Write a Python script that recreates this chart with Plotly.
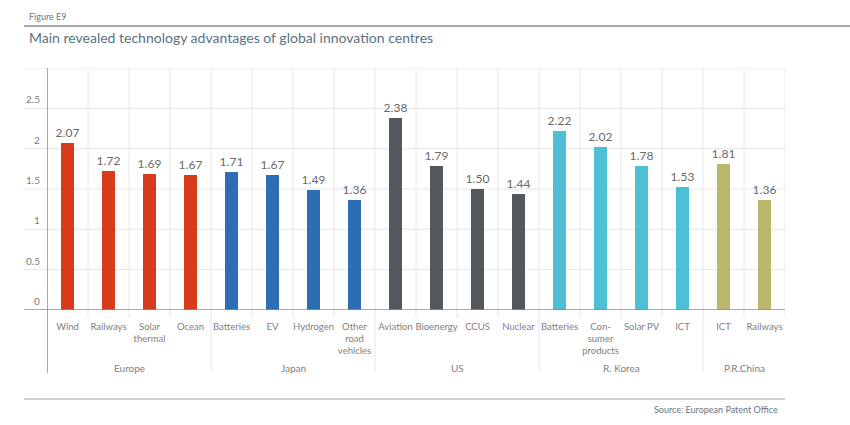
import plotly.graph_objects as go

categories = ["Wind", "Railways", "Solar<br>thermal", "Ocean",
              "Batteries", "EV", "Hydrogen", "Other<br>road<br>vehicles",
              "Aviation", "Bioenergy", "CCUS", "Nuclear",
              "Batteries", "Con-<br>sumer<br>products", "Solar PV", "ICT",
              "ICT", "Railways"]
values = [2.07, 1.72, 1.69, 1.67,
          1.71, 1.67, 1.49, 1.36,
          2.38, 1.79, 1.50, 1.44,
          2.22, 2.02, 1.78, 1.53,
          1.81, 1.36]
groups = ["Europe"] * 4 + ["Japan"] * 4 + ["US"] * 4 + ["R. Korea"] * 4 + ["P.R.China"] * 2
group_names = ["Europe", "Japan", "US", "R. Korea", "P.R.China"]
group_colors = {"Europe": "#D83A1C", "Japan": "#2C6DB3", "US": "#53585C",
                "R. Korea": "#4FBFD6", "P.R.China": "#BAB66B"}
y_ticks = [0, 0.5, 1, 1.5, 2, 2.5]
y_tick_labels = ["0", "0.5", "1", "1.5", "2", "2.5"]
y_grid = [0.5, 1, 1.5, 2, 2.5, 3]

x = list(range(len(categories)))
FONT = "Lato"
GREY = "#808080"

fig = go.Figure(go.Bar(
    x=x, y=values,
    marker=dict(color=[group_colors[g] for g in groups], line=dict(width=0)),
    width=0.34,
    text=[f"{v:.2f}" for v in values],
    textposition="outside",
    constraintext="none",
    textfont=dict(family=FONT, size=12, color="#6A6A6A"),
    cliponaxis=False,
    hoverinfo="skip",
))

shapes = []
LX = -23 / 738  # left extension of horizontal lines (paper)
for g in y_grid:
    shapes.append(dict(type="line", xref="paper", yref="y", x0=LX, x1=1, y0=g, y1=g,
                       line=dict(color="#E4E6E8", width=1), layer="below"))
# vertical grid lines
n = len(categories)
bounds = [i + 0.5 for i in range(n)]
sep = set()
idx = 0
for gname in group_names:
    idx += groups.count(gname)
    sep.add(idx - 0.5)
for b in bounds:
    long_line = b in sep and b < n - 0.5
    shapes.append(dict(type="line", xref="x", yref="paper", x0=b, x1=b,
                       y0=(-62 / 242) if long_line else (-8 / 242), y1=1,
                       line=dict(color="#E4E6E8", width=1), layer="below"))
# zero line
shapes.append(dict(type="line", xref="paper", yref="y", x0=LX, x1=1, y0=0, y1=0,
                   line=dict(color="#8A8C8E", width=1.5)))
# y axis line
shapes.append(dict(type="line", xref="x", yref="paper", x0=-0.5, x1=-0.5,
                   y0=-63 / 242, y1=1, line=dict(color="#8A8C8E", width=1.5)))
# top & bottom rules
shapes.append(dict(type="line", xref="paper", yref="paper", x0=LX, x1=(850 - 47) / 738,
                   y0=(310 - 26) / 242, y1=(310 - 26) / 242, line=dict(color="#8A8C8E", width=1.5)))
shapes.append(dict(type="line", xref="paper", yref="paper", x0=LX, x1=1,
                   y0=(310 - 399) / 242, y1=(310 - 399) / 242, line=dict(color="#A0A2A4", width=1.2)))

annotations = []
for t, lab in zip(y_ticks, y_tick_labels):
    annotations.append(dict(x=-5 / 738, xref="paper", y=t, yref="y", text=lab,
                            showarrow=False, xanchor="right", yanchor="bottom", yshift=1,
                            font=dict(family=FONT, size=10, color=GREY)))
# group labels
start = 0
for gname in group_names:
    cnt = groups.count(gname)
    annotations.append(dict(x=start + (cnt - 1) / 2, xref="x", y=(310 - 368) / 242, yref="paper",
                            text=gname, showarrow=False, xanchor="center", yanchor="middle",
                            font=dict(family=FONT, size=10, color=GREY)))
    start += cnt
annotations.append(dict(x=-20 / 738, xref="paper", y=(310 - 17) / 242, yref="paper",
                        text="Figure E9", showarrow=False, xanchor="left", yanchor="middle",
                        font=dict(family=FONT, size=9, color="#6A7580")))
annotations.append(dict(x=-20 / 738, xref="paper", y=(310 - 37) / 242, yref="paper",
                        text="Main revealed technology advantages of global innovation centres",
                        showarrow=False, xanchor="left", yanchor="middle",
                        font=dict(family=FONT, size=14, color="#5B7183")))
annotations.append(dict(x=(780 - 47) / 738, xref="paper", y=(310 - 409) / 242, yref="paper",
                        text="Source: European Patent Office", showarrow=False,
                        xanchor="right", yanchor="middle",
                        font=dict(family=FONT, size=9, color="#6A7580")))

fig.update_layout(
    width=850, height=425,
    margin=dict(l=47, r=65, t=68, b=115),
    paper_bgcolor="white", plot_bgcolor="white",
    showlegend=False,
    xaxis=dict(range=[-0.5, n - 0.5], tickmode="array", tickvals=x, ticktext=categories,
               showgrid=False, zeroline=False, showline=False, ticks="",
               tickfont=dict(family=FONT, size=9.5, color=GREY), tickangle=0,
               ticklabelstandoff=9, fixedrange=True),
    yaxis=dict(range=[0, 3], showgrid=False, zeroline=False, showline=False,
               showticklabels=False, ticks="", fixedrange=True),
    shapes=shapes, annotations=annotations,
    bargap=0,
)

fig.write_html("out.html")
